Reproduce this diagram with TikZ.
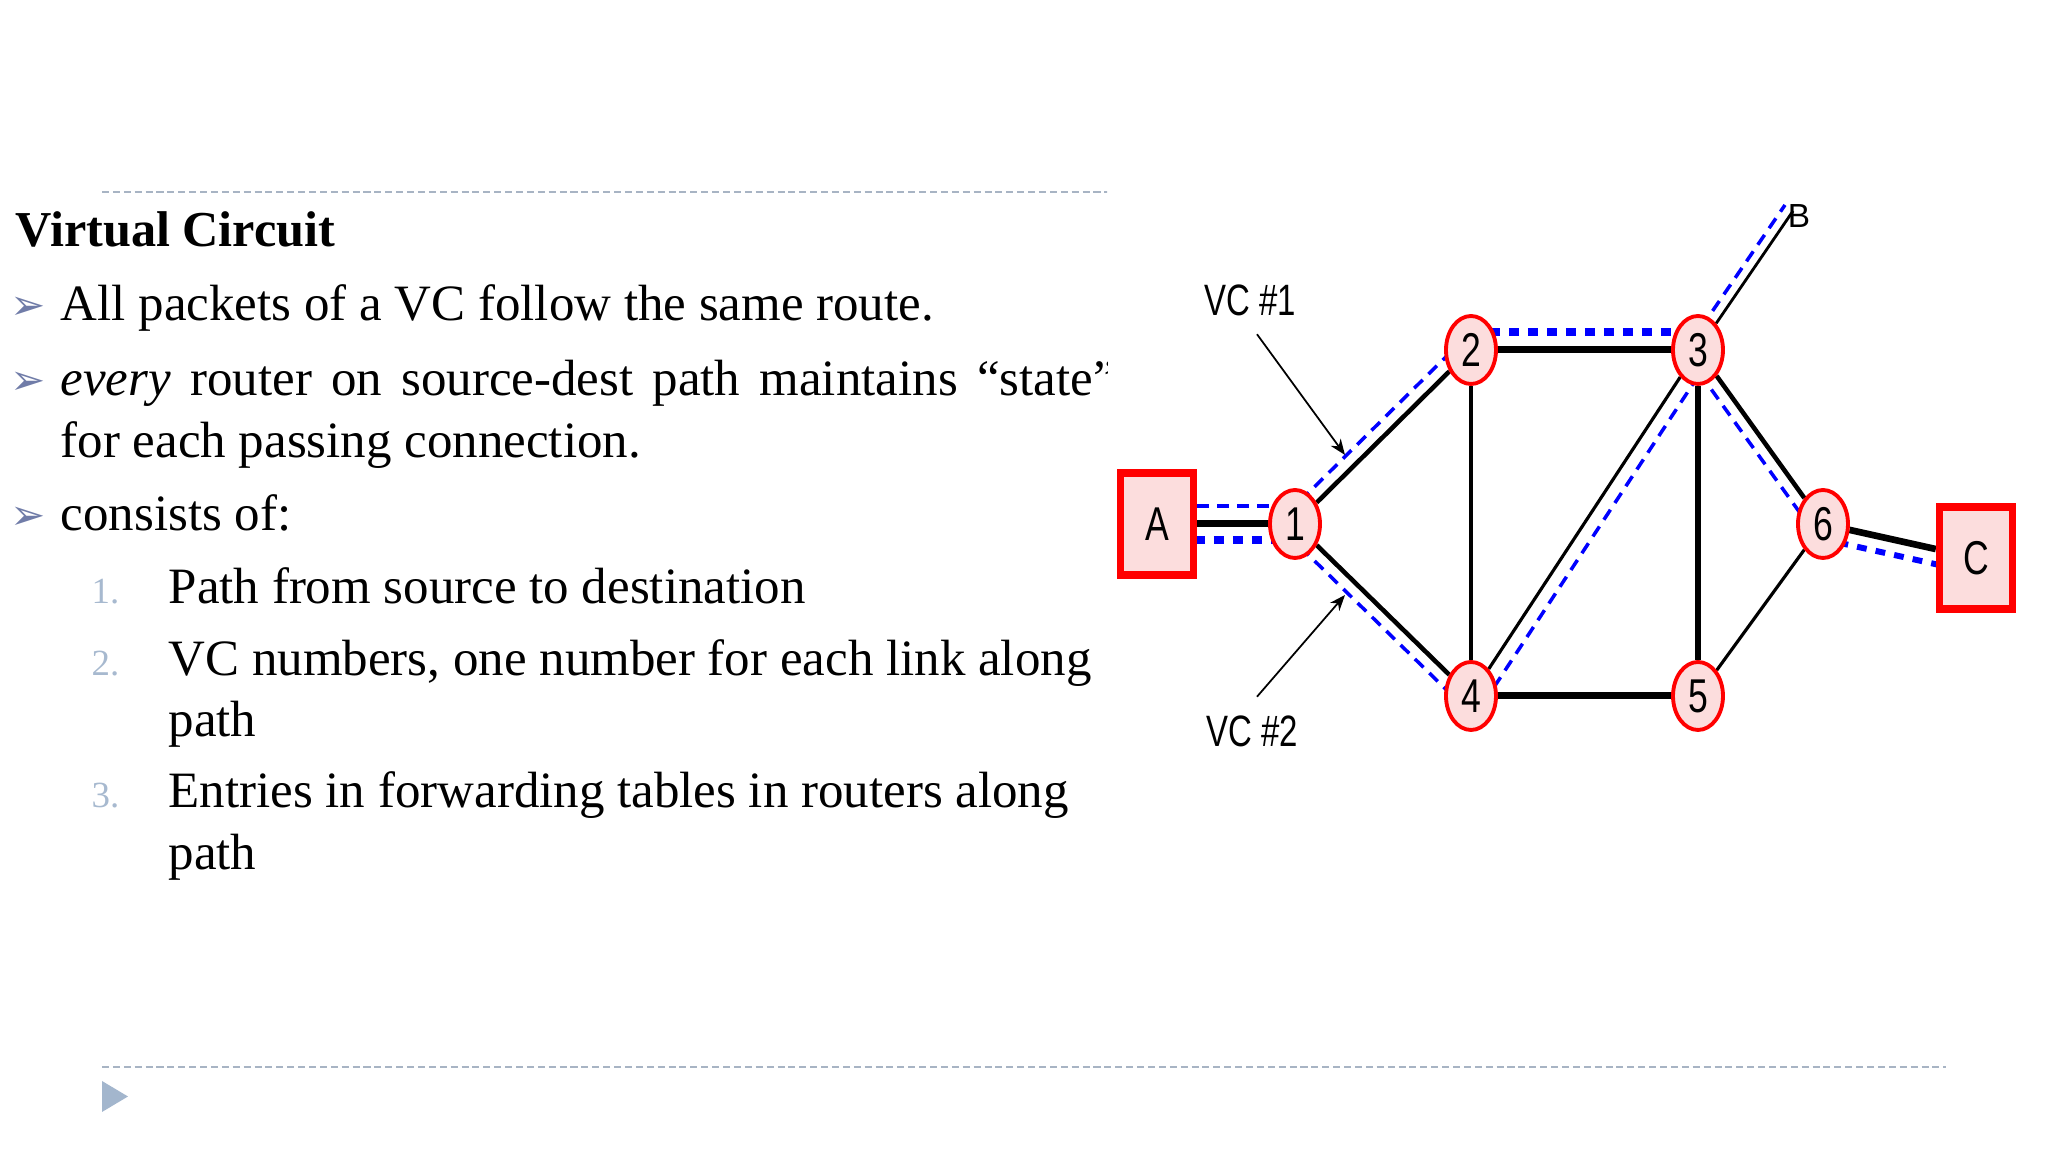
\documentclass[tikz,border=0pt]{standalone}
\usepackage{fontspec}
\setmainfont{Liberation Serif}
\newfontfamily\netfont{Liberation Sans}[FakeStretch=0.75]
\newfontfamily\plainsans{Liberation Sans}
\newfontfamily\dingfont{DejaVu Sans}
\usetikzlibrary{shapes.geometric,arrows.meta,backgrounds}

\definecolor{nodefill}{RGB}{252,221,221}
\definecolor{vcblue}{RGB}{0,0,255}
\definecolor{rulegray}{RGB}{168,180,196}
\definecolor{bulletblue}{RGB}{112,124,168}
\definecolor{numgray}{RGB}{167,185,207}
\definecolor{navblue}{RGB}{163,182,205}

\tikzset{
  router/.style={draw=red, fill=nodefill, ellipse, line width=1.1pt,
    minimum width=0.5cm, minimum height=0.68cm, inner sep=0pt,
    font=\netfont\fontsize{13.5}{13.5}\selectfont},
  host/.style={draw=red, fill=nodefill, rectangle, line width=2.1pt,
    minimum width=0.73cm, minimum height=1.02cm, inner sep=0pt,
    font=\netfont\fontsize{13.5}{13.5}\selectfont},
  vclabel/.style={inner sep=0pt, font=\netfont\fontsize{12.5}{12.5}\selectfont},
  heavylink/.style={line width=2pt},
  link/.style={line width=1.3pt},
  lightlink/.style={line width=0.9pt},
  vcdash/.style={vcblue, line width=1pt, dash pattern=on 3.4pt off 2.3pt},
  vcdot/.style={vcblue, line width=2.1pt, dash pattern=on 2.8pt off 2.6pt},
  vcarrow/.style={-{Stealth[length=4.5pt,width=3.5pt]}, line width=0.5pt},
  bodytext/.style={anchor=base west, inner sep=0pt,
    font=\fontsize{14.5}{17.5}\selectfont},
  numtext/.style={anchor=base west, inner sep=0pt, text=numgray,
    font=\fontsize{10.5}{12}\selectfont},
  bullet/.style={inner sep=0pt, text=bulletblue,
    font=\dingfont\fontsize{12}{12}\selectfont},
  slideline/.style={rulegray, line width=0.45pt, dash pattern=on 2pt off 1.1pt}
}

\begin{document}
\begin{tikzpicture}
\useasboundingbox (0,0) rectangle (20.48,11.52);

% slide text, partly covered by the figure
\begin{scope}
  \clip (0,0) rectangle (11.07,11.52);
  \draw[slideline] (1.02,9.60) -- (19.46,9.60);
  \node[bodytext, font=\bfseries\fontsize{14.3}{17}\selectfont] (title) at (0.15,9.05) {Virtual Circuit};
  \node[bullet] (m1) at (0.285,8.44) {➢};
  \node[bodytext] (p1) at (0.60,8.31) {All packets of a VC follow the same route.};
  \node[bullet] (m2) at (0.285,7.69) {➢};
  \node[bodytext, text width=10.55cm, align=justify] (p2) at (0.60,7.56)
    {\textit{every} router on source-dest path maintains “state”\linebreak for each passing connection.};
  \node[bullet] (m3) at (0.285,6.34) {➢};
  \node[bodytext] (p3) at (0.60,6.21) {consists of:};
  \node[numtext] (k1) at (0.91,5.48) {1.};
  \node[bodytext] (s1) at (1.68,5.48) {Path from source to destination};
  \node[numtext] (k2) at (0.91,4.76) {2.};
  \node[bodytext] (s2) at (1.68,4.76) {VC numbers, one number for each link along};
  \node[bodytext] (s2b) at (1.68,4.15) {path};
  \node[numtext] (k3) at (0.91,3.44) {3.};
  \node[bodytext] (s3) at (1.68,3.44) {Entries in forwarding tables in routers along};
  \node[bodytext] (s3b) at (1.68,2.82) {path};
\end{scope}

\draw[slideline] (1.02,0.85) -- (19.46,0.85);
\fill[navblue] (1.02,0.71) -- (1.28,0.555) -- (1.02,0.40) -- cycle;

% network
\node[host] (A) at (11.57,6.28) {A};
\node[router] (n1) at (12.95,6.28) {1};
\node[router] (n2) at (14.71,8.02) {2};
\node[router] (n3) at (16.98,8.02) {3};
\node[router] (n4) at (14.71,4.56) {4};
\node[router] (n5) at (16.98,4.56) {5};
\node[router] (n6) at (18.23,6.28) {6};
\node[host] (C) at (19.76,5.94) {C};
\node[inner sep=0pt, font=\plainsans\fontsize{9.5}{9.5}\selectfont] (B) at (17.99,9.36) {B};
\coordinate (bend) at (17.93,9.41);

\node[vclabel] (vc1) at (12.50,8.52) {VC \#1};
\node[vclabel] (vc2) at (12.52,4.21) {VC \#2};
\coordinate (tip1) at (13.45,6.97);
\coordinate (tip2) at (13.45,5.57);

\begin{scope}[on background layer]
  \draw[heavylink] (A) -- (n1);
  \draw[link] (n1) -- (n2);
  \draw[link] (n1) -- (n4);
  \draw[heavylink] (n2) -- (n3);
  \draw[lightlink] (n2) -- (n4);
  \draw[lightlink] (n4) -- (n3);
  \draw[line width=1.7pt] (n3) -- (n5);
  \draw[heavylink] (n4) -- (n5);
  \draw[link] (n3) -- (n6);
  \draw[lightlink] (n5) -- (n6);
  \draw[line width=1.9pt] (n6) -- (C);
  \draw[line width=0.8pt] (n3) -- (bend);

  % VC #1: A-1-2-3-B
  \draw[vcdash, transform canvas={yshift=1.8mm}] (A.center) -- (n1.center);
  \draw[vcdash, transform canvas={shift={(-0.09,0.09)}}] (n1.center) -- (n2.center);
  \draw[vcdot, transform canvas={yshift=1.8mm}] (n2.center) -- (n3.center);
  \draw[vcdash, transform canvas={shift={(-0.08,0.06)}}] (n3.center) -- (bend);

  % VC #2: A-1-4-3-6-C
  \draw[vcdot, transform canvas={yshift=-1.6mm}] (A.center) -- (n1.center);
  \draw[vcdash, transform canvas={shift={(-0.09,-0.09)}}] (n1.center) -- (n4.center);
  \draw[vcdash, transform canvas={shift={(0.12,-0.08)}}] (n4.center) -- (n3.center);
  \draw[vcdash, transform canvas={shift={(-0.10,-0.07)}}] (n3.center) -- (n6.center);
  \draw[vcdot, line width=1.7pt, transform canvas={shift={(-0.03,-0.145)}}] (n6.center) -- (C.center);
\end{scope}

\draw[vcarrow] ([shift={(0.07,-0.18)}]vc1.south) -- (tip1);
\draw[vcarrow] ([shift={(0.05,0.18)}]vc2.north) -- (tip2);
\end{tikzpicture}
\end{document}
